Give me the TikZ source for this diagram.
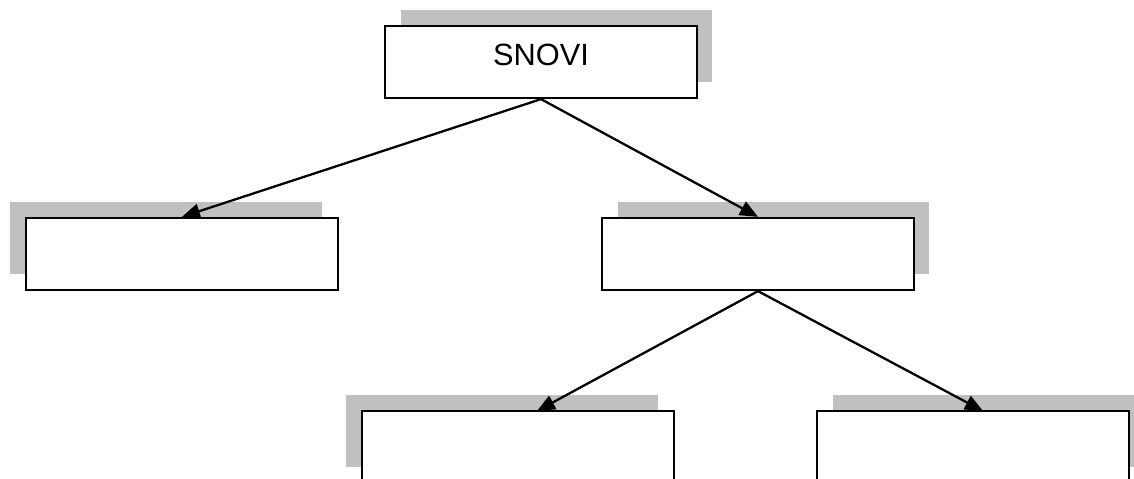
\documentclass[tikz,border=0pt]{standalone}
\usepackage{fontspec}
\setmainfont{Liberation Sans}
\usetikzlibrary{arrows.meta,shadows}
\definecolor{shadegray}{RGB}{192,192,192}
\tikzset{
  box/.style={draw,line width=1.3pt,fill=white,minimum width=6.24cm,minimum height=1.44cm,inner sep=0pt,font=\fontsize{17.5}{21}\selectfont},
  shadeR/.style={drop shadow={shadow xshift=.31cm,shadow yshift=.32cm,fill=shadegray,opacity=1}},
  shadeL/.style={drop shadow={shadow xshift=-.32cm,shadow yshift=.32cm,fill=shadegray,opacity=1}},
  link/.style={line width=1.3pt,-{Triangle[length=.36cm,width=.3cm]}}
}
\begin{document}
\begin{tikzpicture}[x=.02cm,y=-.02cm]
\useasboundingbox(0,0)rectangle(1134,479);
\clip(0,0)rectangle(1134,479);
\node[box,shadeR,text depth=.28cm](snovi)at(541,62){SNOVI};
\node[box,shadeL](left)at(182,254){};
\node[box,shadeR](right)at(758,254){};
\node[box,shadeL](botleft)at(518,447){};
\node[box,shadeR](botright)at(973,447){};
\coordinate(blin)at(537,411);
\coordinate(brin)at(983,411);
\draw[link](snovi.south)--(left.north);
\draw[link](snovi.south)--(right.north);
\draw[link](right.south)--(blin);
\draw[link](right.south)--(brin);
\end{tikzpicture}
\end{document}
